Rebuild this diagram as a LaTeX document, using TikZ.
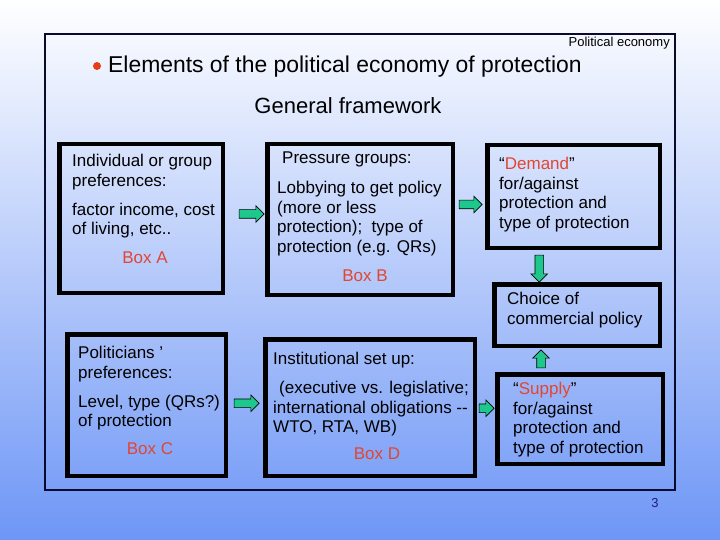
\documentclass[tikz,border=0pt]{standalone}
\usepackage{fontspec}
\setmainfont{Liberation Sans}
\usetikzlibrary{shapes.arrows,calc}
\definecolor{bgblue}{RGB}{110,150,246}
\definecolor{framenavy}{RGB}{10,10,45}
\definecolor{boxred}{RGB}{225,70,50}
\definecolor{dotred}{RGB}{232,60,20}
\definecolor{arrowgreen}{RGB}{30,200,140}
\definecolor{pagenavy}{RGB}{30,30,120}
\newcommand\bodyfont{\fontsize{17}{19.5}\selectfont}

\begin{document}
\begin{tikzpicture}[x=1pt, y=-1pt,
  box/.style={draw=black, line width=4.5pt, inner sep=0pt},
  boxtxt/.style={anchor=north west, align=left, inner sep=0pt, font=\bodyfont},
  boxlbl/.style={anchor=base, inner sep=0pt, font=\bodyfont, text=boxred},
  garrow/.style={single arrow, draw=black, line width=0.6pt, fill=arrowgreen,
                 inner sep=4pt, single arrow head extend=4pt}]

% ---- Background and frame ----
\shade[top color=white, bottom color=bgblue] (0,0) rectangle (720,540);
\useasboundingbox (0,0) rectangle (720,540);
\draw[framenavy, line width=1.3pt] (45,34) rectangle (675,490);

% ---- Headings ----
\node[anchor=base east, inner sep=0pt, font=\fontsize{13}{15}\selectfont] (topic) at (670,46.5){Political economy};
\fill[dotred] (97,66) circle (4pt);
\node[anchor=base west, inner sep=0pt, font=\fontsize{22.9}{26}\selectfont] (title) at (108,73){Elements of the political economy of protection};
\node[anchor=base, inner sep=0pt, font=\fontsize{22}{26}\selectfont] (subtitle) at (348,114){General framework};

% ---- Boxes ----
\node[box, minimum width=163.5pt, minimum height=148.5pt] (boxA) at (141,218.5){};
\node[box, minimum width=185.5pt, minimum height=150.5pt] (boxB) at (360,219.5){};
\node[box, minimum width=172.5pt, minimum height=102.5pt] (demand) at (573.5,196.5){};
\node[box, minimum width=165.5pt, minimum height=61.5pt] (choice) at (577,315){};
\node[box, minimum width=158.5pt, minimum height=141.5pt] (boxC) at (146.5,405){};
\node[box, minimum width=209.5pt, minimum height=136.5pt] (boxD) at (370,407.5){};
\node[box, minimum width=165.5pt, minimum height=89.5pt] (supply) at (580,419){};

% Box A: preferences
\node[boxtxt] (textA) at (72,154){Individual or group\\preferences:\\[9.5pt]factor income, cost\\of living, etc..};
\node[boxlbl] (lblA) at (145,263){Box A};

% Box B: pressure groups
\node[boxtxt] (headB) at (282,152){Pressure groups:};
\node[boxtxt] (textB) at (277,181){Lobbying to get policy\\(more or less\\protection);~ type of\\protection (e.g. QRs)};
\node[boxlbl] (lblB) at (365,281){Box B};

% Demand side
\node[boxtxt] (textDem) at (499,157){“\textcolor{boxred}{Demand}”\\for/against\\protection and\\type of protection};

% Policy choice
\node[boxtxt] (textCho) at (507,292){Choice of\\commercial policy};

% Box C: politicians
\node[boxtxt] (textC) at (78,346){Politicians ’\\preferences:\\[9.5pt]Level, type (QRs?)\\of protection};
\node[boxlbl] (lblC) at (150,454){Box C};

% Box D: institutions
\node[boxtxt] (headD) at (273,352){Institutional set up:};
\node[boxtxt] (textD) at (273,381){\hspace*{6pt}(executive vs. legislative;\\international obligations -{}-\\WTO, RTA, WB)};
\node[boxlbl] (lblD) at (377,459){Box D};

% Supply side
\node[boxtxt] (textSup) at (513,382){“\textcolor{boxred}{Supply}”\\for/against\\protection and\\type of protection};

% ---- Block arrows ----
\node[garrow, minimum height=25pt] (AtoB) at ($(boxA.east)!.5!(boxB.west)+(4.5,-5)$){};
\node[garrow, minimum height=23pt] (BtoDem) at ($(boxB.east)!.5!(demand.west)+(-1.5,-3.5)$){};
\node[garrow, minimum height=27pt, rotate=-90] (DemtoCho) at ($(demand.south)!.5!(choice.north)+(-36,0.5)$){};
\node[garrow, minimum height=18pt, rotate=90] (SuptoCho) at ($(choice.south)!.5!(supply.north)+(-37.5,1)$){};
\node[garrow, minimum height=25pt] (CtoD) at ($(boxC.east)!.5!(boxD.west)+(-1,-3)$){};
\node[garrow, minimum height=15pt] (DtoSup) at ($(boxD.east)!.5!(supply.west)+(-1.5,-5)$){};

% ---- Page number ----
\node[anchor=base, inner sep=0pt, font=\fontsize{13}{15}\selectfont, text=pagenavy] (pageno) at (655,507.5){3};

\end{tikzpicture}
\end{document}
